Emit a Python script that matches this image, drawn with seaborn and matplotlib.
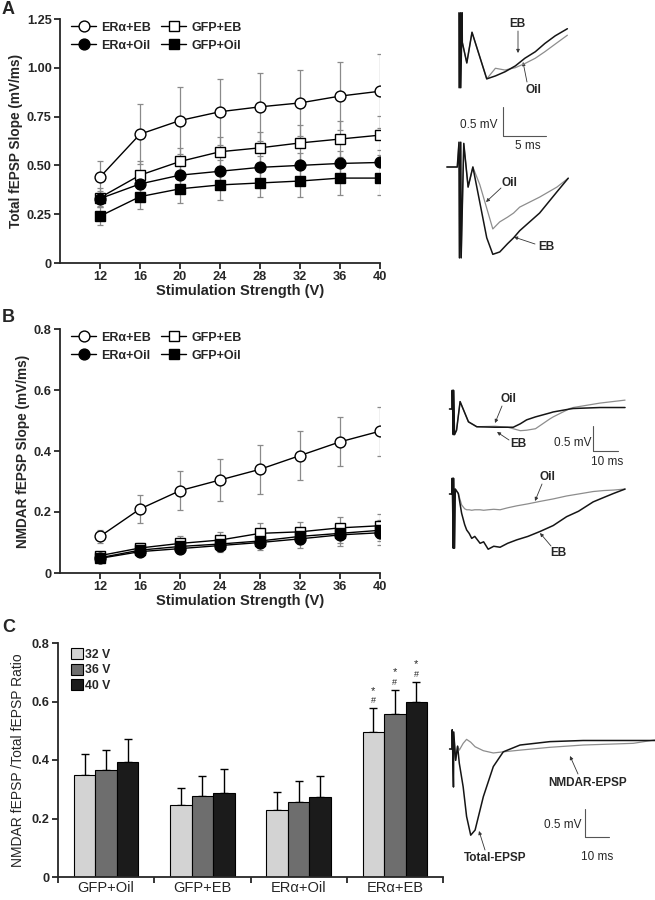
import matplotlib
matplotlib.use("Agg")
import pandas as pd
import matplotlib.pyplot as plt
import seaborn as sns
from matplotlib.lines import Line2D

# ---- panel A / B: slopes vs stimulation strength (mean, SEM) ----
volts = [12, 16, 20, 24, 28, 32, 36, 40]
groups = ["ERα+EB", "ERα+Oil", "GFP+EB", "GFP+Oil"]

total_mean = {
    "ERα+EB": [0.44, 0.66, 0.73, 0.775, 0.80, 0.82, 0.855, 0.88],
    "GFP+EB": [0.335, 0.45, 0.52, 0.57, 0.59, 0.615, 0.635, 0.655],
    "ERα+Oil": [0.33, 0.405, 0.45, 0.47, 0.49, 0.50, 0.51, 0.515],
    "GFP+Oil": [0.24, 0.34, 0.38, 0.40, 0.41, 0.42, 0.435, 0.435],
}
total_sem = {
    "ERα+EB": [0.08, 0.155, 0.17, 0.17, 0.175, 0.17, 0.175, 0.19],
    "GFP+EB": [0.05, 0.07, 0.07, 0.075, 0.08, 0.09, 0.09, 0.10],
    "ERα+Oil": [0.04, 0.05, 0.06, 0.06, 0.06, 0.065, 0.065, 0.065],
    "GFP+Oil": [0.045, 0.065, 0.075, 0.075, 0.07, 0.08, 0.085, 0.085],
}
nmdar_mean = {
    "ERα+EB": [0.12, 0.21, 0.27, 0.305, 0.34, 0.385, 0.43, 0.465],
    "GFP+EB": [0.057, 0.082, 0.097, 0.108, 0.13, 0.135, 0.148, 0.155],
    "ERα+Oil": [0.048, 0.07, 0.08, 0.09, 0.10, 0.112, 0.125, 0.132],
    "GFP+Oil": [0.05, 0.075, 0.087, 0.095, 0.105, 0.12, 0.13, 0.14],
}
nmdar_sem = {
    "ERα+EB": [0.02, 0.045, 0.063, 0.07, 0.08, 0.08, 0.08, 0.08],
    "GFP+EB": [0.012, 0.015, 0.025, 0.025, 0.033, 0.032, 0.035, 0.04],
    "ERα+Oil": [0.01, 0.012, 0.015, 0.02, 0.025, 0.03, 0.035, 0.04],
    "GFP+Oil": [0.01, 0.012, 0.015, 0.02, 0.02, 0.025, 0.03, 0.035],
}

# ---- panel C: NMDAR / total ratio ----
ratio_groups = ["GFP+Oil", "GFP+EB", "ERα+Oil", "ERα+EB"]
ratio_levels = ["32 V", "36 V", "40 V"]
ratio_32 = [0.35, 0.245, 0.23, 0.497]
ratio_36 = [0.365, 0.277, 0.257, 0.556]
ratio_40 = [0.393, 0.288, 0.272, 0.598]
err_32 = [0.07, 0.06, 0.06, 0.08]
err_36 = [0.07, 0.07, 0.07, 0.085]
err_40 = [0.08, 0.08, 0.073, 0.07]

# ---- example traces (ms, mV) ----
a1_t = [0, 0.02, 0.18, 0.2, 0.36, 0.38, 0.9, 1.5, 3.2, 4.2, 5.3, 6.5, 7.6, 8.8, 9.9, 11.1, 12.5]
a1_eb = [0.8, -0.47, 0.8, -0.47, 0.8, 0.3, -0.05, 0.47, -0.32, -0.27, -0.2, -0.1, 0.03, 0.14, 0.28, 0.41, 0.53]
a1_oil = [0.8, -0.47, 0.8, -0.47, 0.8, 0.3, -0.05, 0.47, -0.32, -0.14, -0.17, -0.13, -0.06, 0.03, 0.14, 0.27, 0.42]

a2_t = [-1.4, -0.2, 0, 0.05, 0.2, 0.25, 0.55, 1.05, 1.6, 2.4, 3.2, 3.9, 4.7, 5.6, 6.3, 7.0, 9.3, 11.3, 12.6]
a2_eb = [0.0, 0.0, 0.42, -1.54, 0.42, -1.54, 0.4, -0.34, 0.0, -0.6, -1.2, -1.48, -1.44, -1.3, -1.2, -1.08, -0.78, -0.42, -0.19]
a2_oil = [0.0, 0.0, 0.42, -1.54, 0.42, -1.54, 0.4, -0.34, 0.0, -0.3, -0.7, -1.05, -0.93, -0.85, -0.78, -0.68, -0.51, -0.34, -0.19]

b1_t = [-1, 0, 0.1, 0.5, 0.6, 1.0, 1.8, 3.2, 6.5, 9.8, 17, 22, 24.2, 27, 29.5, 33, 38.7, 40, 46.6, 47.9, 58.5, 68.4]
b1_eb = [0, 0, 0.38, -0.52, 0.38, -0.52, -0.43, 0.15, -0.26, -0.36, -0.37, -0.37, -0.37, -0.3, -0.22, -0.16, -0.08, -0.06, 0.0, 0.01, 0.03, 0.03]
b1_oil = [0, 0, 0.38, -0.52, 0.38, -0.52, -0.43, 0.15, -0.26, -0.36, -0.35, -0.37, -0.4, -0.44, -0.43, -0.4, -0.2, -0.16, 0.01, 0.03, 0.12, 0.18]

b2_t = [-1, 0, 0.1, 0.5, 0.6, 1.0, 1.3, 2.5, 3.8, 5.0, 5.8, 6.8, 7.8, 9.0, 11.1, 12.5, 14.3, 16.5, 19, 22,
        25.6, 30, 34.8, 40, 45.3, 50, 55.8, 60, 63.8, 68.4]
b2_eb = [0, 0, 0.32, -1.1, 0.32, -1.1, 0.1, 0.01, -0.39, -0.62, -0.73, -0.8, -0.9, -0.86, -1.0, -0.97, -1.12, -1.06, -1.08, -1.0,
         -0.93, -0.86, -0.76, -0.64, -0.46, -0.35, -0.16, -0.07, 0.01, 0.1]
b2_oil = [0, 0, 0.32, -1.1, 0.32, -1.1, 0.1, 0.01, -0.22, -0.3, -0.32, -0.32, -0.33, -0.32, -0.32, -0.33, -0.32, -0.31, -0.32, -0.28,
          -0.24, -0.2, -0.15, -0.1, -0.04, 0.0, 0.05, 0.07, 0.08, 0.1]

c_t = [-1, 0, 0.1, 0.6, 0.7, 1.5, 2.3, 3.0, 4.6, 6.0, 7.7, 9.5, 12.9, 17, 21.1, 28, 40.3, 54, 60.9, 74.6, 83.5]
c_total = [0, 0, 0.34, -0.67, 0.3, -0.2, 0.05, -0.25, -0.67, -1.19, -1.52, -1.43, -0.84, -0.31, -0.05, 0.07, 0.13, 0.15, 0.15, 0.15, 0.15]
c_nmdar = [0, 0, 0.34, -0.67, 0.3, -0.2, 0.05, -0.02, 0.1, 0.17, 0.12, 0.04, -0.03, -0.07, -0.05, -0.02, 0.03, 0.07, 0.08, 0.1, 0.16]

W, H = 655, 900
sns.set_style("ticks")
plt.rcParams["font.family"] = ["Liberation Sans", "DejaVu Sans"]
plt.rcParams["axes.linewidth"] = 1.3

fig = plt.figure(figsize=(W / 100, H / 100), dpi=100)


def fx(px):
    return px / W


def fy(py):
    return 1 - py / H


def add_ax(left, top, right, bottom):
    return fig.add_axes([fx(left), fy(bottom), (right - left) / W, (bottom - top) / H])


marker_style = {"ERα+EB": ("o", "white"), "GFP+EB": ("s", "white"),
                "ERα+Oil": ("o", "black"), "GFP+Oil": ("s", "black")}
draw_order = ["ERα+EB", "GFP+EB", "ERα+Oil", "GFP+Oil"]


def slope_panel(ax, means, sems, ymax, yticks, yticklabels, ylabel):
    for g in draw_order:
        ax.errorbar(volts, means[g], yerr=sems[g], fmt="none", ecolor="#8a8a8a",
                    elinewidth=0.9, capsize=2.2, capthick=0.9, zorder=1)
    for g in draw_order:
        m, fc = marker_style[g]
        sns.lineplot(x=volts, y=means[g], ax=ax, color="black", lw=1, marker=m,
                     markersize=7.8 if m == "o" else 7.2, markerfacecolor=fc,
                     markeredgecolor="black", markeredgewidth=1, label=g, zorder=3)
    ax.set_xlim(8, 40)
    ax.set_ylim(0, ymax)
    ax.set_xticks(volts)
    ax.set_yticks(yticks)
    ax.set_yticklabels(yticklabels)
    for lab in ax.get_xticklabels() + ax.get_yticklabels():
        lab.set_fontweight("bold")
        lab.set_fontsize(9.2)
    ax.tick_params(length=4, width=1.3, pad=2)
    ax.set_xlabel("Stimulation Strength (V)", fontsize=10.6, fontweight="bold")
    ax.xaxis.set_label_coords(0.5625, -0.085)
    ax.set_ylabel(ylabel, fontsize=9.8, fontweight="bold", labelpad=3)
    sns.despine(ax=ax)
    h, l = ax.get_legend_handles_labels()
    lookup = dict(zip(l, h))
    ax.legend([lookup[g] for g in groups], groups, ncol=2, loc="upper left",
              bbox_to_anchor=(0.02, 1.01), frameon=False, handlelength=2.0,
              handletextpad=0.4, columnspacing=0.8, labelspacing=0.5,
              prop={"weight": "bold", "size": 9}, borderaxespad=0)


ax_a = add_ax(60, 19, 380, 263)
slope_panel(ax_a, total_mean, total_sem, 1.25, [0, 0.25, 0.5, 0.75, 1.0, 1.25],
            ["0", "0.25", "0.50", "0.75", "1.00", "1.25"], "Total fEPSP Slope (mV/ms)")

ax_b = add_ax(60, 329, 380, 573)
slope_panel(ax_b, nmdar_mean, nmdar_sem, 0.8, [0, 0.2, 0.4, 0.6, 0.8],
            ["0", "0.2", "0.4", "0.6", "0.8"], "NMDAR fEPSP Slope (mV/ms)")

# ---- panel C bars ----
ratio_df = pd.DataFrame({
    "group": ratio_groups * 3,
    "level": [lv for lv in ratio_levels for _ in ratio_groups],
    "ratio": ratio_32 + ratio_36 + ratio_40,
})
ratio_err = [err_32, err_36, err_40]

ax_c = add_ax(58, 643, 443, 877)
sns.barplot(data=ratio_df, x="group", y="ratio", hue="level", order=ratio_groups,
            hue_order=ratio_levels, palette=["#d3d3d3", "#6e6e6e", "#1b1b1b"],
            width=0.67, edgecolor="black", linewidth=0.8, ax=ax_c)
for cont, errs in zip(ax_c.containers, ratio_err):
    xs = [b.get_x() + b.get_width() / 2 for b in cont]
    hs = [b.get_height() for b in cont]
    ax_c.errorbar(xs, hs, yerr=[[0] * len(errs), errs], fmt="none", ecolor="black",
                  elinewidth=1, capsize=2.8, capthick=1, zorder=0)
    ax_c.annotate("#", (xs[-1], hs[-1] + errs[-1]), xytext=(0, 2), textcoords="offset points",
                  ha="center", va="bottom", fontsize=6.5)
    ax_c.annotate("*", (xs[-1], hs[-1] + errs[-1]), xytext=(0, 9), textcoords="offset points",
                  ha="center", va="bottom", fontsize=8)
ax_c.set_xlim(-0.5, 3.5)
ax_c.set_ylim(0, 0.8)
ax_c.set_yticks([0, 0.2, 0.4, 0.6, 0.8])
ax_c.set_yticklabels(["0", "0.2", "0.4", "0.6", "0.8"], fontweight="bold", fontsize=9.2)
ax_c.set_xticks(range(4))
ax_c.set_xticklabels(ratio_groups, fontsize=10.5)
ax_c.set_xticks([-0.5, 0.5, 1.5, 2.5, 3.5], minor=True)
ax_c.tick_params(axis="x", which="major", length=0, pad=3)
ax_c.tick_params(axis="x", which="minor", length=4, width=1.3)
ax_c.tick_params(axis="y", length=4, width=1.3, pad=2)
ax_c.set_xlabel("")
ax_c.set_ylabel("NMDAR fEPSP /Total fEPSP Ratio", fontsize=10, labelpad=5)
sns.despine(ax=ax_c)
ax_c.legend(loc="upper left", bbox_to_anchor=(0.02, 1.0), frameon=False, handlelength=1.0,
            handleheight=1.0, handletextpad=0.2, labelspacing=0.25, borderaxespad=0,
            prop={"weight": "bold", "size": 8.8})

# ---- trace insets ----
DARK, GREY = "#151515", "#8d8d8d"


def inset(left, top, width, height, t0, v0, px_ms, px_mv):
    ax = fig.add_axes([fx(left), fy(top + height), width / W, height / H])
    ax.set_xlim((left - t0) / px_ms, (left + width - t0) / px_ms)
    ax.set_ylim((v0 - top - height) / px_mv, (v0 - top) / px_mv)
    ax.axis("off")
    return ax


def traces(ax, t, grey_v, dark_v):
    ax.plot(t, grey_v, color=GREY, lw=0.9, clip_on=False)
    ax.plot(t, dark_v, color=DARK, lw=1.1, clip_on=False)


def scale_bar(px, py, px_ms, px_mv, ms, mv, ms_txt, mv_txt, mv_right, ms_center):
    x1 = px + ms * px_ms
    y1 = py - mv * px_mv
    fig.add_artist(Line2D([fx(px), fx(px), fx(x1)], [fy(y1), fy(py), fy(py)],
                          color="#555555", lw=0.8, transform=fig.transFigure))
    fig.text(fx(mv_right[0]), fy(mv_right[1]), mv_txt, ha="right", va="center", fontsize=8.5)
    fig.text(fx(ms_center[0]), fy(ms_center[1]), ms_txt, ha="center", va="center", fontsize=8.5)


def label_arrow(text, txt_xy, start_xy, tip_xy):
    fig.text(fx(txt_xy[0]), fy(txt_xy[1]), text, ha="center", va="center",
             fontsize=8.5, fontweight="bold")
    ax_c.annotate("", xy=(fx(tip_xy[0]), fy(tip_xy[1])), xycoords="figure fraction",
                  xytext=(fx(start_xy[0]), fy(start_xy[1])), textcoords="figure fraction",
                  arrowprops=dict(arrowstyle="-|>", lw=0.6, color="#333333",
                                  mutation_scale=5, shrinkA=0, shrinkB=0))


ia1 = inset(440, 10, 140, 128, 459, 60, 8.67, 59)
traces(ia1, a1_t, a1_oil, a1_eb)
ia2 = inset(440, 138, 140, 130, 459, 167, 8.67, 59)
traces(ia2, a2_t, a2_oil, a2_eb)
scale_bar(503, 136, 8.67, 59, 5, 0.5, "5 ms", "0.5 mV", (498, 125), (528, 146))
label_arrow("EB", (517, 24), (518, 31), (518, 53))
label_arrow("Oil", (533, 90), (527, 82), (523, 62))
label_arrow("Oil", (509, 183), (501, 188), (486, 202))
label_arrow("EB", (546, 247), (535, 244), (514, 237))

ib1 = inset(440, 375, 215, 70, 452, 409, 2.53, 49.3)
traces(ib1, b1_t, b1_oil, b1_eb)
ib2 = inset(440, 470, 215, 90, 452, 494, 2.53, 49.3)
traces(ib2, b2_t, b2_oil, b2_eb)
scale_bar(593, 451, 2.53, 49.3, 10, 0.5, "10 ms", "0.5 mV", (591, 443), (607, 462))
label_arrow("Oil", (508, 399), (502, 406), (495, 423))
label_arrow("EB", (518, 444), (509, 440), (497, 432))
label_arrow("Oil", (547, 477), (542, 484), (535, 501))
label_arrow("EB", (558, 553), (551, 546), (540, 533))

ic = inset(440, 720, 215, 130, 452, 749, 2.43, 56.7)
traces(ic, c_t, c_nmdar, c_total)
scale_bar(585, 837, 2.43, 56.7, 10, 0.5, "10 ms", "0.5 mV", (581, 825), (597, 857))
label_arrow("NMDAR-EPSP", (588, 783), (578, 774), (570, 756))
label_arrow("Total-EPSP", (495, 858), (485, 850), (479, 831))

# panel letters
for letter, py in [("A", 9), ("B", 318), ("C", 628)]:
    fig.text(fx(2), fy(py), letter, fontsize=13, fontweight="bold", ha="left", va="center")

fig.savefig("out.png", dpi=100)
